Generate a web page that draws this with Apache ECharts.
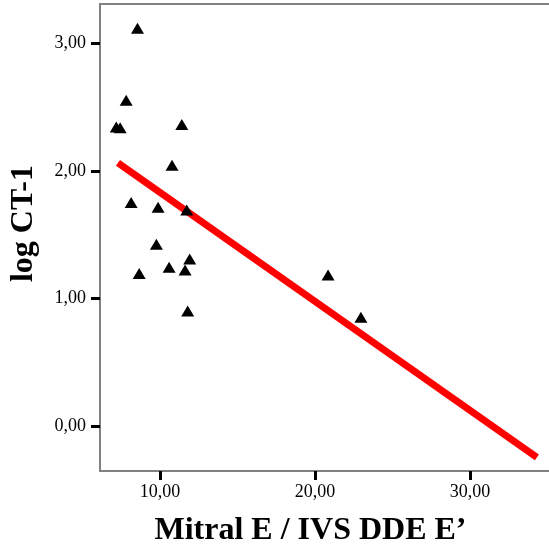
<!DOCTYPE html>
<html><head><meta charset="utf-8">
<script src="https://cdn.jsdelivr.net/npm/echarts@6/dist/echarts.min.js"></script>
<style>html,body{margin:0;padding:0;background:#fff}#c{width:549px;height:553px}</style>
</head><body><div id="c"></div>
<script>
const ptX = [8.54, 7.81, 7.17, 7.42, 11.40, 10.77, 8.13, 9.87, 11.72, 9.76, 11.91, 10.58, 11.61, 8.65, 11.78, 20.84, 22.96];
const ptY = [3.12, 2.556, 2.346, 2.34, 2.365, 2.046, 1.754, 1.715, 1.694, 1.425, 1.31, 1.245, 1.223, 1.197, 0.902, 1.184, 0.853];
const fitX = [7.28, 34.32];
const fitY = [2.064, -0.246];
const xTicks = [10, 20, 30];
const yTicks = [0, 1, 2, 3];
const xTitle = 'Mitral E / IVS DDE E\u2019';
const yTitle = 'log CT-1';

const fmt = v => v.toFixed(2).replace('.', ',');
const font = '"Liberation Serif", "Times New Roman", serif';
const chart = echarts.init(document.getElementById('c'), null, {renderer: 'canvas'});
chart.setOption({
  animation: false,
  backgroundColor: '#fff',
  grid: {left: 99, top: 4, right: 0, bottom: 82, show: false, containLabel: false},
  xAxis: [{
    type: 'value', min: 6.12, max: 35.1,
    name: xTitle, nameLocation: 'middle', nameGap: 44,
    nameTextStyle: {fontFamily: font, fontSize: 32, fontWeight: 'bold', color: '#000', padding: [0, 28, 0, 0]},
    axisLine: {show: true, onZero: false, lineStyle: {color: '#808080', width: 2}},
    axisTick: {show: true, inside: false, length: 9, lineStyle: {color: '#000', width: 3}, customValues: xTicks},
    axisLabel: {show: true, margin: 12, fontFamily: font, fontSize: 18, color: '#000', formatter: fmt, customValues: xTicks},
    splitLine: {show: false}
  }, {
    type: 'value', position: 'top', min: 6.12, max: 35.1,
    axisLine: {show: true, onZero: false, lineStyle: {color: '#808080', width: 2}},
    axisTick: {show: false}, axisLabel: {show: false}, splitLine: {show: false}
  }],
  yAxis: {
    type: 'value', min: -0.353, max: 3.31,
    name: yTitle, nameLocation: 'middle', nameGap: 60, nameRotate: 90,
    nameTextStyle: {fontFamily: font, fontSize: 32, fontWeight: 'bold', color: '#000', padding: [0, 0, 0, 28]},
    axisLine: {show: true, onZero: false, lineStyle: {color: '#808080', width: 2}},
    axisTick: {show: true, inside: false, length: 9, lineStyle: {color: '#000', width: 3}, customValues: yTicks},
    axisLabel: {show: true, margin: 14, fontFamily: font, fontSize: 18, color: '#000', formatter: fmt, customValues: yTicks},
    splitLine: {show: false}
  },
  series: [
    {
      type: 'line', data: fitX.map((x, i) => [x, fitY[i]]), showSymbol: false, symbol: 'none',
      lineStyle: {color: '#ff0000', width: 7}, z: 2
    },
    {
      type: 'scatter', data: ptX.map((x, i) => [x, ptY[i]]), symbol: 'triangle', symbolSize: [13, 11],
      itemStyle: {color: '#000', opacity: 1}, z: 3
    }
  ]
});
</script></body></html>
